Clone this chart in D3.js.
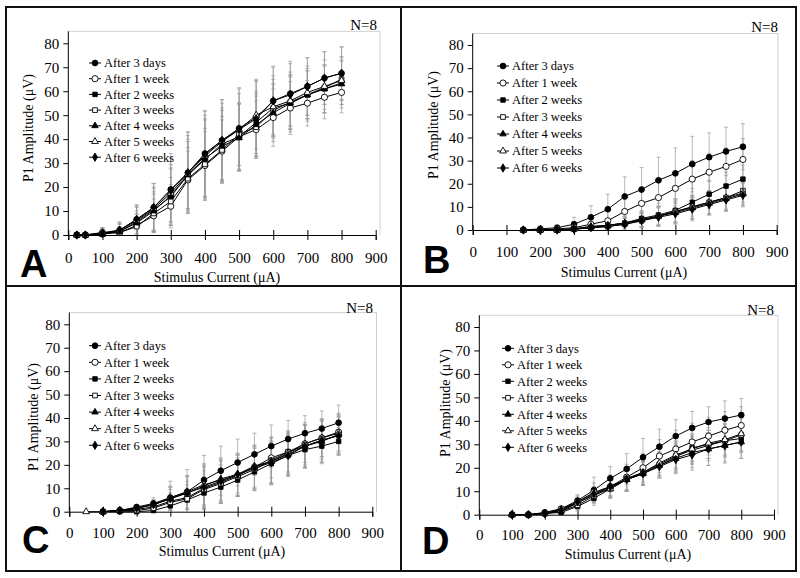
<!DOCTYPE html>
<html><head><meta charset="utf-8">
<script src="https://cdn.jsdelivr.net/npm/d3@7"></script>
<style>body{margin:0;background:#fff}svg{display:block}</style>
</head><body>
<svg id="c" width="800" height="578"></svg>
<script>
// ---------- DATA ----------
const seriesNames = ["After 3 days","After 1 week","After 2 weeks","After 3 weeks","After 4 weeks","After 5 weeks","After 6 weeks"];
const xTicks = [0,100,200,300,400,500,600,700,800,900];
const yTicks = [0,10,20,30,40,50,60,70,80];

// Panel A
const xA = [25,50,100,150,200,250,300,350,400,450,500,550,600,650,700,750,800];
const A_3d = [0,0,0.5,2,6.5,11.5,19,26,34,39.5,44.5,49,56,59,62,65.5,67.5];
const A_1w = [0,0,1,1,4,8,12,23,29,35,41,44,49,53,55,57.5,59.5];
const A_2w = [0,0,0.5,1.5,5.5,10.5,16,25,31.5,38,41,47,53,55,58.5,61,63.5];
const A_3w = [0,0,0.5,1,3.5,9,14,23.5,29.5,35.5,42,45,52,55.5,58.5,61.5,65];
const A_4w = [0,0,0.3,1.5,5,10,16.5,25,32,37,40.5,46,51,55,58.5,61,63];
const A_5w = [0,0,1,2,6,11,17.5,25.5,33,39,44,50,53.5,56,59.5,62,64.5];
const A_6w = [0,0,0.5,2,6.5,11.5,18.5,26,33.5,39.5,44,48.5,56,58.5,62,65.5,67.5];
const A_sd3d = [0,0,2.5,3.5,6,10,15,17,18,17,17,16,14.5,13.5,12,11,11];
const A_sd1w = [0,0,2,2.5,5,7,9,12,14,13,14,12,12,11,9.5,9,8.5];
const A_sd2w = [0,0,2,3,6,9,12,15,17,15,14,13,12,11,10,10,9];
const A_sd3w = [0,0,1.5,2.5,5,8,10,13,15,14,13,13,11,11,10,9,9];
const A_sd4w = [0,0,2,3,5,8,11,14,16,15,14,13,12,12,11,10,10];
const A_sd5w = [0,0,2,3,6,9,12,16,17,16,15,14,13,12,11,11,10];
const A_sd6w = [0,0,2,3,6,10,14,17,18,17,17,16,14,13,12,11,11];

// Panel B
const xB = [150,200,250,300,350,400,450,500,550,600,650,700,750,800];
const B_3d = [0,0.5,1,2.5,5.5,9,14.5,17.5,21.5,24.5,28.5,31.5,34,36];
const B_1w = [0,0,0.5,1,2.5,4,8,11.5,14,18,22,25,27.5,30.5];
const B_2w = [0,0,0,0.5,1,2,3,5,6.5,8.5,12,15.5,19,22];
const B_3w = [0,0,0,0.3,1,1.5,2.5,4,6,8,10,12,14,17];
const B_4w = [0,0,0,0.5,1.5,2,3,4.5,6,7.5,9.5,11.5,13.5,15.5];
const B_5w = [0,0,0,0.5,1.5,2,3,4.5,6,8,10,12,14,16];
const B_6w = [0,0,0,0.3,1,1.5,2.5,4,5.5,7,9,11,13,15];
const B_sd3d = [0,0.5,1,3,5,6.5,8.5,9.5,10,11,12,10.5,10.5,10];
const B_sd1w = [0,0.3,0.5,1.5,3,4.5,6,7,7.5,7.5,8,8,8,9];
const B_sd2w = [0,0,0.3,1,1.5,2,3,3.5,4,5,6,6,6,6];
const B_sd3w = [0,0,0.3,0.8,1.2,2,2.5,3,4,5,5,5,5,5];
const B_sd4w = [0,0,0.3,0.8,1.2,2,2.5,3,4,4.5,5,5,5,5];
const B_sd5w = [0,0,0.3,0.8,1.2,2,2.5,3,4,4.5,5,5,5.5,5];
const B_sd6w = [0,0,0.3,0.8,1.2,1.5,2.5,3,4,4.5,5,4.5,5,5];

// Panel C
const xC = [50,100,150,200,250,300,350,400,450,500,550,600,650,700,750,800];
const C_3d = [null,0,0.5,2,3.5,6,8.5,13.5,17.5,21,24.5,28,31,33.5,35.5,38];
const C_1w = [null,0,0.5,1,2,4.5,6,10,12.5,15.5,19,23,25.5,29,31.5,34];
const C_2w = [null,0,0,0,0.5,2.5,5,8,10.5,13.5,17,20.5,24,26.5,28,30];
const C_3w = [null,0,0.5,0.5,1.5,4,5.5,9.5,12,15,18,22,25.5,28,30.5,32.5];
const C_4w = [null,0,0.5,1.5,3,5.5,8,11,14,16,19.5,21.5,24.5,28,30,33];
const C_5w = [0,0,0.5,1.5,3,6,8.5,11.5,13.5,15.5,19,21.5,25,29,31.5,33.5];
const C_6w = [null,0,0.5,1.5,3,5.5,8,10.5,13,16,18.5,21,24,28,30.5,32.5];
const C_sd3d = [null,0,0.5,1,2.5,7,9.5,10.5,10.5,10,9,9,8,7.5,7.5,7.5];
const C_sd1w = [null,0,0.5,1,2,5,7,9,9,9,9,8.5,8.5,8,8,8];
const C_sd2w = [null,0,0.3,0.5,1,3,5,7,7,7,8,9,8.5,8,7.5,6];
const C_sd3w = [null,0,0.5,0.5,1.5,4,6,8,8,8,9,10,9,9,9,8];
const C_sd4w = [null,0,0.5,1,2,5,7,9,9,8,9,10,9,9,9,8];
const C_sd5w = [0,0,0.5,1,2,5,7,9,9,9,9,9,9,9,8,8];
const C_sd6w = [null,0,0.5,1,2,5,7,9,9,9,9,9,9,9,8,8];

// Panel D
const xD = [100,150,200,250,300,350,400,450,500,550,600,650,700,750,800];
const D_3d = [0,0,1,2.5,6,10.5,15.5,19.5,24.5,29,33.5,37,39.5,41,42.5];
const D_1w = [0,0,0.5,2.5,5.5,9.5,12,16,20,25,28,31,33.5,36,38];
const D_2w = [0,0,0.5,1,3.5,7,11,15,17.5,21,24.5,28.5,30,31.5,32.5];
const D_3w = [0,0,0.5,1.5,4,8,11.5,15.5,18,21.5,25,27.5,29.5,31.5,34];
const D_4w = [0,0,0.5,1.5,5,8.5,12,15,17.5,21,24,26.5,28,29.5,31];
const D_5w = [0,0,0.5,2,5,8.5,11,15,18,22,25.5,28,30.5,32,34.5];
const D_6w = [0,0,0.5,2,5.5,9,12,15,17.5,20.5,23.5,25.5,28,29.5,31];
const D_sd3d = [0,0,0.5,1,2.5,5.5,5,6.5,8,7.5,7,7,6.5,7.5,7];
const D_sd1w = [0,0,0.5,1,2.5,4,5,5.5,6,7,8,8,8,8,8];
const D_sd2w = [0,0,0.5,1,2,3,3.5,5,5,5,6,6,6,6,6];
const D_sd3w = [0,0,0.5,1,2,3,4,5,5,5,6,6,6.5,7,7];
const D_sd4w = [0,0,0.5,1,2,3,4,5,5,5,6,6.5,7,7,7];
const D_sd5w = [0,0,0.5,1,2,3,4,5,5,5,6,6,6.5,7,7];
const D_sd6w = [0,0,0.5,1,2,3,4,4.5,5,5,6,6.5,7,7.5,7];

// ---------- LAYOUT ----------
const panels = [
  {letter:"A", x:xA, vals:[A_3d,A_1w,A_2w,A_3w,A_4w,A_5w,A_6w], sds:[A_sd3d,A_sd1w,A_sd2w,A_sd3w,A_sd4w,A_sd5w,A_sd6w],
   x0:68.3, x1:375.7, y0:235, y1:43.3, frameR:380, tickLabY:258, yTitleX:28, yTitleY:128, xTitleX:217, xTitleY:277,
   nX:377, nY:25, letX:20, letY:277, legX:95, legY:63, legDy:15.7},
  {letter:"B", x:xB, vals:[B_3d,B_1w,B_2w,B_3w,B_4w,B_5w,B_6w], sds:[B_sd3d,B_sd1w,B_sd2w,B_sd3w,B_sd4w,B_sd5w,B_sd6w],
   x0:472.7, x1:776.7, y0:230, y1:45, frameR:778, tickLabY:252, yTitleX:433, yTitleY:125, xTitleX:624, xTitleY:272,
   nX:778, nY:27, letX:423, letY:273, legX:503, legY:66, legDy:17},
  {letter:"C", x:xC, vals:[C_3d,C_1w,C_2w,C_3w,C_4w,C_5w,C_6w], sds:[C_sd3d,C_sd1w,C_sd2w,C_sd3w,C_sd4w,C_sd5w,C_sd6w],
   x0:69.3, x1:372.3, y0:511.7, y1:324.3, frameR:376.5, tickLabY:533, yTitleX:33, yTitleY:417, xTitleX:222, xTitleY:551,
   nX:373, nY:308, letX:22, letY:553, legX:95, legY:345.7, legDy:16.6},
  {letter:"D", x:xD, vals:[D_3d,D_1w,D_2w,D_3w,D_4w,D_5w,D_6w], sds:[D_sd3d,D_sd1w,D_sd2w,D_sd3w,D_sd4w,D_sd5w,D_sd6w],
   x0:479.3, x1:774, y0:514.7, y1:327, frameR:778, tickLabY:535, yTitleX:445, yTitleY:403, xTitleX:628, xTitleY:554,
   nX:774, nY:310, letX:422, letY:554, legX:508, legY:348.3, legDy:16.5}
];

const markers = [
  {type:d3.symbolCircle, size:26, fill:"#000"},
  {type:d3.symbolCircle, size:30, fill:"#fff"},
  {type:d3.symbolSquare, size:20, fill:"#000"},
  {type:d3.symbolSquare, size:22, fill:"#fff"},
  {type:d3.symbolTriangle, size:18, fill:"#000"},
  {type:d3.symbolTriangle, size:20, fill:"#fff"},
  {type:d3.symbolDiamond, size:20, fill:"#000"}
];
const serif = "'Liberation Serif','Times New Roman',serif";
const svg = d3.select("#c");

// frame
svg.append("rect").attr("x",6).attr("y",7).attr("width",790).attr("height",564)
  .attr("fill","none").attr("stroke","#111").attr("stroke-width",2);
svg.append("line").attr("x1",401).attr("x2",401).attr("y1",7).attr("y2",571).attr("stroke","#111").attr("stroke-width",2);
svg.append("line").attr("x1",6).attr("x2",796).attr("y1",286).attr("y2",286).attr("stroke","#111").attr("stroke-width",2);

panels.forEach(p => {
  const xs = d3.scaleLinear().domain([0,900]).range([p.x0,p.x1]);
  const ys = d3.scaleLinear().domain([0,80]).range([p.y0,p.y1]);
  const yTop = ys(85);
  const g = svg.append("g");

  // plot frame (light gray)
  g.append("path").attr("d",`M${p.x0},${yTop}H${p.frameR}V${p.y0}`)
    .attr("fill","none").attr("stroke","#d0d0d0").attr("stroke-width",1);

  // y axis
  const ya = g.append("g").attr("transform",`translate(${p.x0},0)`)
    .call(d3.axisLeft(ys).tickValues(yTicks).tickSize(5).tickPadding(4));
  ya.select(".domain").attr("d",`M0,${yTop}V${p.y0}`).attr("stroke","#000");
  ya.selectAll(".tick text").attr("font-family",serif).attr("font-size",15).attr("fill","#000");

  // x axis with cross ticks
  const xa = g.append("g").attr("transform",`translate(0,${p.y0})`)
    .call(d3.axisBottom(xs).tickValues(xTicks).tickSize(5).tickFormat(d3.format("d")));
  xa.selectAll(".tick line").attr("y1",-5).attr("y2",5);
  xa.selectAll(".tick text").attr("y",p.tickLabY - p.y0).attr("dy","0.35em")
    .attr("font-family",serif).attr("font-size",15).attr("fill","#000");

  // titles
  g.append("text").attr("transform",`translate(${p.yTitleX},${p.yTitleY}) rotate(-90)`)
    .attr("text-anchor","middle").attr("dy","0.35em").attr("font-family",serif).attr("font-size",14)
    .text("P1 Amplitude (\u03bcV)");
  g.append("text").attr("x",p.xTitleX).attr("y",p.xTitleY).attr("dy","0.35em")
    .attr("text-anchor","middle").attr("font-family",serif).attr("font-size",14)
    .text("Stimulus Current (\u03bcA)");
  g.append("text").attr("x",p.nX).attr("y",p.nY).attr("dy","0.35em").attr("text-anchor","end")
    .attr("font-family",serif).attr("font-size",15).text("N=8");
  g.append("text").attr("x",p.letX).attr("y",p.letY).attr("font-family","'Liberation Sans',Arial,sans-serif")
    .attr("font-weight","bold").attr("font-size",38).text(p.letter);

  // error bars
  p.vals.forEach((vals,si) => {
    const sds = p.sds[si];
    const eb = g.append("g").attr("stroke","#9a9a9a").attr("stroke-width",0.7);
    vals.forEach((v,i) => {
      if (v === null || !sds[i]) return;
      const cx = xs(p.x[i]);
      const yHi = ys(v + sds[i]), yLo = ys(Math.max(v - sds[i], 0));
      eb.append("line").attr("x1",cx).attr("x2",cx).attr("y1",yHi).attr("y2",yLo);
      eb.append("line").attr("x1",cx-2).attr("x2",cx+2).attr("y1",yHi).attr("y2",yHi);
      if (v - sds[i] > 0) eb.append("line").attr("x1",cx-2).attr("x2",cx+2).attr("y1",yLo).attr("y2",yLo);
    });
  });

  // lines
  const line = d3.line().defined(d => d.v !== null).x(d => xs(d.x)).y(d => ys(d.v));
  p.vals.forEach((vals) => {
    const pts = vals.map((v,i) => ({x:p.x[i], v:v}));
    g.append("path").datum(pts).attr("d",line).attr("fill","none").attr("stroke","#000").attr("stroke-width",1);
  });
  // markers
  p.vals.forEach((vals,si) => {
    const m = markers[si];
    const pts = vals.map((v,i) => ({x:p.x[i], v:v})).filter(d => d.v !== null);
    g.selectAll(null).data(pts).enter().append("path")
      .attr("d",d3.symbol().type(m.type).size(m.size))
      .attr("transform",d => `translate(${xs(d.x)},${ys(d.v)})`)
      .attr("fill",m.fill).attr("stroke","#000").attr("stroke-width",0.9);
  });

  // legend
  seriesNames.forEach((name,si) => {
    const ly = p.legY + si*p.legDy, m = markers[si];
    g.append("line").attr("x1",p.legX-6).attr("x2",p.legX+6).attr("y1",ly).attr("y2",ly).attr("stroke","#000");
    g.append("path").attr("d",d3.symbol().type(m.type).size(m.size)).attr("transform",`translate(${p.legX},${ly})`)
      .attr("fill",m.fill).attr("stroke","#000").attr("stroke-width",0.9);
    g.append("text").attr("x",p.legX+9).attr("y",ly).attr("dy","0.35em")
      .attr("font-family",serif).attr("font-size",12.5).text(name);
  });
});
</script>
</body></html>
